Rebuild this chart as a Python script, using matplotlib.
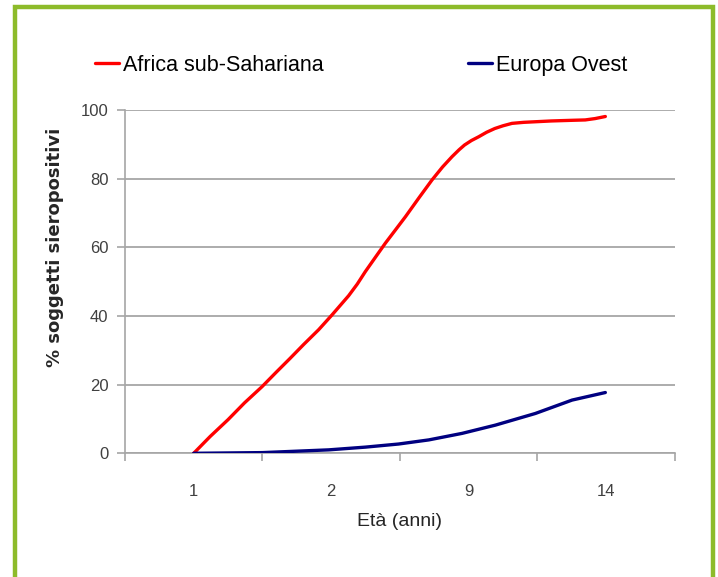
import matplotlib
matplotlib.use("Agg")
import matplotlib.pyplot as plt
from matplotlib.patches import Rectangle

# categories on x axis (eta in anni)
categories = ["1", "2", "9", "14"]

# curve, x in category units (0 = "1", 3 = "14")
africa_x = [0.0, 0.12, 0.25, 0.37, 0.497, 0.6, 0.7, 0.8, 0.909, 1.006, 1.127,
            1.19, 1.248, 1.32, 1.394, 1.47, 1.54, 1.64, 1.733, 1.81, 1.879,
            1.93, 1.97, 2.02, 2.073, 2.13, 2.19, 2.25, 2.315, 2.4, 2.5, 2.6,
            2.679, 2.76, 2.848, 2.92, 2.994]
africa_y = [0.0, 4.9, 9.8, 14.7, 19.4, 23.6, 27.6, 31.7, 36.0, 40.3, 45.9,
            49.3, 52.9, 57.0, 61.2, 65.2, 68.9, 74.5, 79.6, 83.4, 86.4,
            88.4, 89.8, 91.1, 92.2, 93.5, 94.6, 95.4, 96.1, 96.4, 96.6, 96.8,
            96.9, 97.0, 97.1, 97.5, 98.1]

europa_x = [0.0, 0.5, 0.982, 1.25, 1.49, 1.71, 1.952, 2.194, 2.485, 2.752, 2.994]
europa_y = [0.0, 0.2, 1.0, 1.8, 2.7, 3.9, 5.8, 8.2, 11.6, 15.5, 17.7]

yticks = [0, 20, 40, 60, 80, 100]

plt.rcParams["font.family"] = ["Liberation Sans", "DejaVu Sans"]

fig = plt.figure(figsize=(7.18, 5.77), dpi=100)
ax = fig.add_axes([0.174, 0.2144, 0.766, 0.595])

# green frame round the picture
fig.patches.append(Rectangle((15 / 718, -0.05), (713 - 15) / 718, 1.05 - 7.5 / 577,
                             transform=fig.transFigure, fill=False,
                             edgecolor="#8dbb2a", linewidth=3.2, zorder=0))

ax.plot(africa_x, africa_y, color="#ff0000", lw=2.4, solid_capstyle="round",
        solid_joinstyle="round", label="Africa sub-Sahariana", zorder=3)
ax.plot(europa_x, europa_y, color="#000080", lw=2.4, solid_capstyle="round",
        solid_joinstyle="round", label="Europa Ovest", zorder=3)

ax.set_xlim(-0.5, 3.5)
ax.set_ylim(0, 100)

ax.set_yticks(yticks)
ax.set_yticklabels([str(v) for v in yticks])
ax.yaxis.grid(True, color="#a6a6a6", lw=1.3)
ax.set_axisbelow(True)

# ticks between categories, labels at the centres
ax.set_xticks([-0.5, 0.5, 1.5, 2.5, 3.5])
ax.set_xticklabels([])
ax.set_xticks(range(len(categories)), minor=True)
ax.set_xticklabels(categories, minor=True)
ax.tick_params(axis="x", which="major", length=6, color="#a6a6a6", width=1.2)
ax.tick_params(axis="x", which="minor", length=0, pad=22, labelsize=12,
               labelcolor="#404040")
ax.tick_params(axis="y", length=6, color="#a6a6a6", width=1.2, pad=6,
               labelsize=12, labelcolor="#404040")

for s in ["top", "right"]:
    ax.spines[s].set_visible(False)
for s in ["left", "bottom"]:
    ax.spines[s].set_color("#a6a6a6")
    ax.spines[s].set_linewidth(1.2)

ax.set_xlabel("Età (anni)", fontsize=14, color="#262626", labelpad=10)
ax.set_ylabel("% soggetti sieropositivi", fontsize=13, fontweight="bold",
              family="DejaVu Sans", color="#262626", labelpad=12, y=0.6)

ax.legend(loc="center", bbox_to_anchor=(0.43, 1.131), ncol=2, frameon=False,
          fontsize=15.5, handlelength=1.1, handletextpad=0.2,
          columnspacing=6.7)

fig.savefig("out.png", dpi=100)
